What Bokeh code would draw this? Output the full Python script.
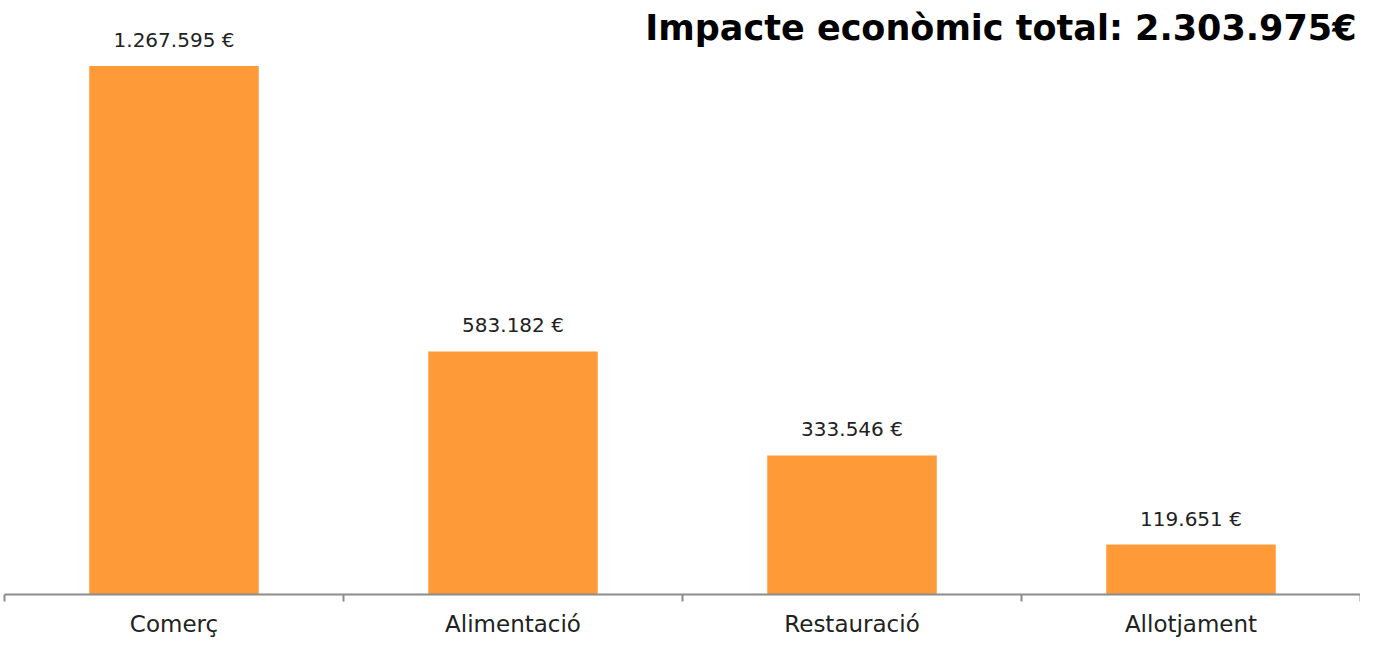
from bokeh.plotting import figure
from bokeh.models import ColumnDataSource, Range1d, FixedTicker, Label, LabelSet
from bokeh.core.properties import value
from bokeh.embed import file_html
from bokeh.resources import INLINE

categories = ["Comerç", "Alimentació", "Restauració", "Allotjament"]
values = [1267595, 583182, 333546, 119651]
title_text = "Impacte econòmic total: 2.303.975€"

def fmt(v):
    return f"{v:,}".replace(",", ".") + " €"

xs = [i + 0.5 for i in range(len(categories))]
src = ColumnDataSource(dict(x=xs, top=values, lab=[fmt(v) for v in values]))

p = figure(width=1360, height=639, output_backend="svg", toolbar_location=None,
           x_range=Range1d(0, len(categories)), y_range=Range1d(0, max(values) * 589 / 524),
           min_border_left=4, min_border_right=0, min_border_top=0, min_border_bottom=0)
p.outline_line_color = None
p.grid.visible = False
p.yaxis.visible = False
p.background_fill_color = "white"

p.vbar(x="x", top="top", width=0.5, source=src, color="#FF9A38", line_color=None)

p.add_layout(LabelSet(x="x", y="top", text="lab", source=src, text_align="center",
                      text_baseline="bottom", y_offset=14, text_font=value("DejaVu Sans"),
                      text_font_size=value("20px"), text_color="#222222"))

ax = p.xaxis[0]
ax.ticker = FixedTicker(ticks=xs, minor_ticks=list(range(len(categories) + 1)))
ax.major_label_overrides = {x: c for x, c in zip(xs, categories)}
ax.major_tick_out = 0
ax.major_tick_in = 0
ax.minor_tick_out = 7
ax.minor_tick_in = 0
ax.minor_tick_line_color = "#8c8c8c"
ax.minor_tick_line_width = 2
ax.axis_line_color = "#8c8c8c"
ax.axis_line_width = 2
ax.major_label_text_font = "DejaVu Sans"
ax.major_label_text_font_size = "23px"
ax.major_label_text_color = "#222222"
ax.major_label_standoff = 9

p.add_layout(Label(x=1352, y=567, x_units="screen", y_units="screen", text=title_text,
                   text_align="right", text_baseline="middle", text_font="DejaVu Sans",
                   text_font_style="bold", text_font_size="35px", text_color="black"))

open("out.html", "w").write(file_html(p, INLINE))
